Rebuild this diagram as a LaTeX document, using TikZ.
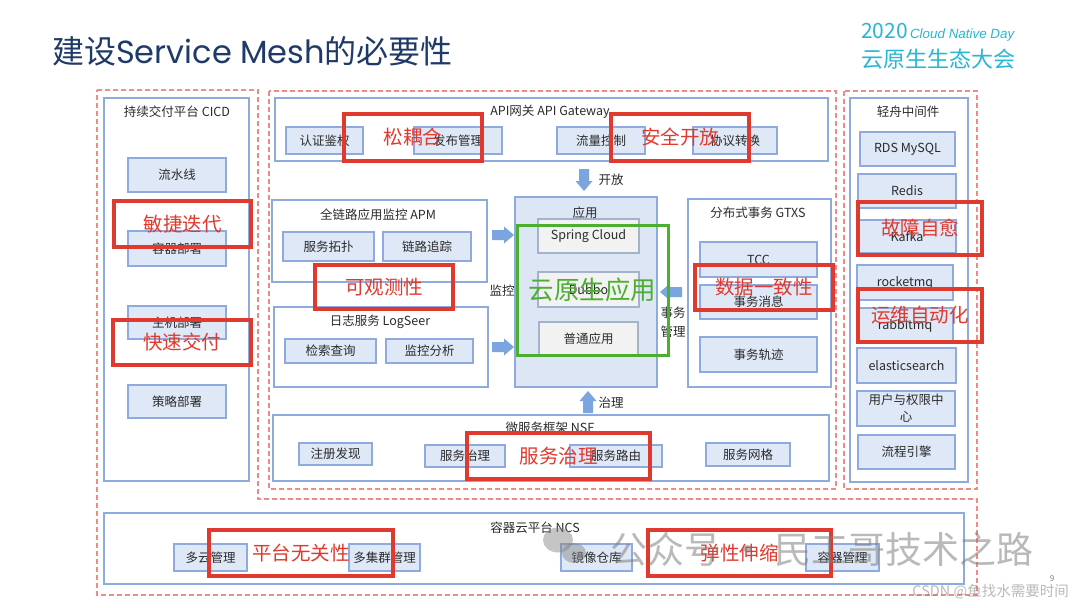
\documentclass[tikz,border=0pt]{standalone}
\usepackage{fontspec}
\setmainfont{Noto Sans CJK SC}
\newfontfamily\popf{Poppins}
\newfontfamily\arialf{Liberation Sans}
\definecolor{boxblue}{HTML}{8FAADC}
\definecolor{itemfill}{HTML}{DEE8F6}
\definecolor{appfill}{HTML}{DCE6F5}
\definecolor{grayfill}{HTML}{F2F2F2}
\definecolor{grayborder}{HTML}{A3B3CC}
\definecolor{dashred}{HTML}{F08A84}
\definecolor{markred}{HTML}{E0392D}
\definecolor{markgreen}{HTML}{4CAF2F}
\definecolor{titleblue}{HTML}{1F3A68}
\definecolor{cyanc}{HTML}{27B6D4}
\definecolor{textdark}{HTML}{2B2B2B}
\definecolor{arrowblue}{HTML}{7AA5E0}
\newcommand\boxat[7]{\node[#1, minimum width={#5-#3}, minimum height={#6-#4}] (#2) at ({(#3+#5)/2},{(#4+#6)/2}) {#7};}
\tikzset{
  container/.style={draw=boxblue, line width=1.4pt, fill=white, inner sep=0pt, outer sep=0pt},
  appbox/.style={container, fill=appfill},
  item/.style={draw=boxblue, line width=1.1pt, fill=itemfill, inner sep=0pt, outer sep=0pt, text=textdark, font=\fontsize{12.5}{17}\selectfont, align=center},
  gitem/.style={item, draw=grayborder, fill=grayfill},
  ttl/.style={inner sep=0pt, text=textdark, font=\fontsize{12.5}{14}\selectfont},
  reddash/.style={draw=dashred, line width=1.4pt, dash pattern=on 5pt off 3pt},
  redmark/.style={draw=markred, line width=3.5pt, inner sep=0pt, text=markred, font=\fontsize{19.5}{20}\selectfont},
  greenmark/.style={draw=markgreen, line width=3pt, inner sep=0pt, text=markgreen, font=\fontsize{25.5}{26}\selectfont},
  blockarrow/.pic={\fill[arrowblue] (0,-5) -- (12,-5) -- (12,-8.5) -- (22,0) -- (12,8.5) -- (12,5) -- (0,5) -- cycle;},
  wm/.style={inner sep=0pt, text=gray, opacity=0.55}
}
\begin{document}
\begin{tikzpicture}[x=1pt,y=-1pt]
\useasboundingbox (0,0) rectangle (1080,608);
\fill[white] (0,0) rectangle (1080,608);

% title
\node[anchor=west, inner sep=0pt, text=titleblue, font=\fontsize{32}{34}\selectfont] (title) at (52,51) {建设{\popf Service Mesh}的必要性};
\node[anchor=base west, inner sep=0pt, text=cyanc] (event) at (861,38) {{\fontsize{21}{22}\selectfont 2020} {\arialf\itshape\fontsize{13.4}{14}\selectfont Cloud Native Day}};
\node[anchor=west, inner sep=0pt, text=cyanc, font=\fontsize{22}{23}\selectfont] (eventcn) at (861,59) {云原生生态大会};

% red dashed regions
\draw[reddash] (97,90) -- (258,90) -- (258,499) -- (977,499) -- (977,595) -- (97,595) -- cycle;
\draw[reddash] (269,91) rectangle (836,489);
\draw[reddash] (844,91) rectangle (977,489);

% CICD
\boxat{container}{cicd}{104}{98}{249}{481}{}
\node[ttl] (cicdT) at (177,112) {持续交付平台 CICD};
\boxat{item}{pipe}{128}{158}{226}{192}{流水线}
\boxat{item}{cdep}{128}{231}{226}{266}{容器部署}
\boxat{item}{hdep}{128}{306}{226}{339}{主机部署}
\boxat{item}{pdep}{128}{385}{226}{418}{策略部署}

% API gateway
\boxat{container}{api}{275}{98}{828}{161}{}
\node[ttl] (apiT) at (550,112) {API网关 API Gateway};
\boxat{item}{auth}{286}{127}{363}{154}{认证鉴权}
\boxat{item}{pub}{414}{127}{502}{154}{发布管理}
\boxat{item}{flow}{557}{127}{645}{154}{流量控制}
\boxat{item}{proto}{693}{127}{777}{154}{协议转换}

% APM
\boxat{container}{apm}{272}{200}{487}{282}{}
\node[ttl] (apmT) at (378,215) {全链路应用监控 APM};
\boxat{item}{topo}{283}{232}{374}{261}{服务拓扑}
\boxat{item}{trace}{383}{232}{471}{261}{链路追踪}

% LogSeer
\boxat{container}{log}{274}{307}{488}{387}{}
\node[ttl] (logT) at (380,322) {日志服务 LogSeer};
\boxat{item}{query}{285}{339}{376}{363}{检索查询}
\boxat{item}{ana}{386}{339}{473}{363}{监控分析}

% Application
\boxat{appbox}{app}{515}{197}{657}{387}{}
\node[ttl] (appT) at (585,213) {应用};
\boxat{gitem}{spring}{538}{219}{639}{253}{Spring Cloud}
\boxat{gitem}{dubbo}{538}{272}{639}{307}{Dubbo}
\boxat{gitem}{plain}{539}{322}{638}{355}{普通应用}

% GTXS
\boxat{container}{gtxs}{688}{199}{831}{387}{}
\node[ttl] (gtxsT) at (758,213) {分布式事务 GTXS};
\boxat{item}{tcc}{700}{242}{817}{277}{TCC}
\boxat{item}{tmsg}{700}{285}{817}{319}{事务消息}
\boxat{item}{ttrace}{700}{337}{817}{372}{事务轨迹}

% NSF
\boxat{container}{nsf}{273}{415}{829}{481}{}
\node[ttl] (nsfT) at (550,428) {微服务框架 NSF};
\boxat{item}{reg}{299}{443}{372}{465}{注册发现}
\boxat{item}{gov}{425}{445}{505}{467}{服务治理}
\boxat{item}{route}{570}{445}{662}{467}{服务路由}
\boxat{item}{mesh}{706}{443}{790}{466}{服务网格}

% Middleware
\boxat{container}{mw}{850}{98}{968}{482}{}
\node[ttl] (mwT) at (908,112) {轻舟中间件};
\boxat{item}{rds}{860}{132}{955}{166}{RDS MySQL}
\boxat{item}{redis}{858}{174}{956}{208}{Redis}
\boxat{item}{kafka}{858}{220}{956}{253}{Kafka}
\boxat{item}{rocket}{857}{265}{953}{300}{rocketmq}
\boxat{item}{rabbit}{857}{308}{953}{343}{rabbitmq}
\boxat{item}{es}{857}{348}{956}{383}{elasticsearch}
\boxat{item}{uac}{857}{391}{955}{426}{用户与权限中\\心}
\boxat{item}{wf}{858}{435}{955}{469}{流程引擎}

% NCS
\boxat{container}{ncs}{104}{513}{964}{584}{}
\node[ttl] (ncsT) at (535,528) {容器云平台 NCS};
\boxat{item}{multi}{174}{544}{247}{571}{多云管理}
\boxat{item}{cluster}{349}{544}{420}{571}{多集群管理}
\boxat{item}{image}{561}{544}{632}{571}{镜像仓库}
\boxat{item}{cmgr}{806}{544}{879}{571}{容器管理}

% block arrows and their labels
\pic at (492,235) {blockarrow};
\pic at (492,347) {blockarrow};
\pic[rotate=-90] at (584,169) {blockarrow};
\pic[rotate=90] at (588,413) {blockarrow};
\pic[rotate=180] at (682,292) {blockarrow};
\node[ttl] (lblopen) at (611,180) {开放};
\node[ttl] (lblgov) at (611,403) {治理};
\node[ttl] (lblmon) at (502,291) {监控};
\node[ttl, align=center, font=\fontsize{12.5}{19}\selectfont] (lbltx) at (673,322) {事务\\管理};

% annotation marks
\boxat{redmark}{mAgile}{114}{201}{251}{247}{敏捷迭代}
\boxat{redmark}{mFast}{113}{320}{251}{365}{快速交付}
\boxat{redmark}{mLoose}{344}{114}{482}{161}{松耦合}
\boxat{redmark}{mSafe}{611}{114}{749}{161}{安全开放}
\boxat{redmark}{mObs}{315}{265}{453}{309}{可观测性}
\boxat{redmark}{mCons}{695}{265}{833}{310}{数据一致性}
\boxat{redmark}{mHeal}{858}{202}{982}{255}{故障自愈}
\boxat{redmark}{mOps}{858}{289}{982}{342}{运维自动化}
\boxat{redmark}{mGov}{467}{433}{650}{479}{服务治理}
\boxat{redmark}{mPlat}{209}{530}{393}{576}{平台无关性}
\boxat{redmark}{mElastic}{648}{530}{831}{576}{弹性伸缩}
\boxat{greenmark}{mCloud}{517}{225}{668}{355}{云原生应用}

% watermarks
\fill[gray, opacity=0.45] (558,540) ellipse [x radius=15, y radius=12.5];
\fill[gray, opacity=0.45] (574,553) ellipse [x radius=12, y radius=10];
\node[wm, anchor=west, font=\fontsize{37}{40}\selectfont] (wm1) at (610,549) {公众号 · 民工哥技术之路};
\node[wm, anchor=east, font=\fontsize{14.5}{16}\selectfont] (wm2) at (1069,592) {CSDN @鱼找水需要时间};
\node[inner sep=0pt, text=gray, font=\fontsize{8}{9}\selectfont] (pg) at (1052,579) {9};
\end{tikzpicture}
\end{document}
